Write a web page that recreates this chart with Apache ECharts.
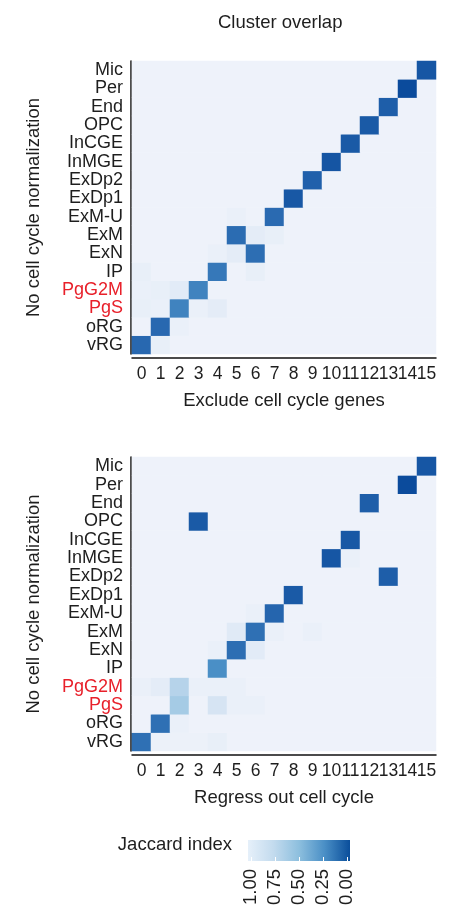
<!DOCTYPE html>
<html>
<head>
<meta charset="utf-8">
<script src="https://cdn.jsdelivr.net/npm/echarts@6/dist/echarts.min.js"></script>
<style>
  html, body { margin: 0; padding: 0; background: #fff; }
  #chart { width: 451px; height: 911px; }
</style>
</head>
<body>
<div id="chart"></div>
<script>
// clusters (columns) and cell types (rows, bottom to top)
var clusters = ['0','1','2','3','4','5','6','7','8','9','10','11','12','13','14','15'];
var cellTypes = ['vRG','oRG','PgS','PgG2M','IP','ExN','ExM','ExM-U','ExDp1','ExDp2','InMGE','InCGE','OPC','End','Per','Mic'];
var redTypes = ['PgG2M', 'PgS'];

// Jaccard overlap, one row per cell type, one value per cluster
var excludeGenes = [
  [0.80,0.03,0,0,0,0,0,0,0,0,0,0,0,0,0,0],
  [0,0.80,0.02,0,0,0,0,0,0,0,0,0,0,0,0,0],
  [0.03,0.02,0.66,0.02,0.05,0,0,0,0,0,0,0,0,0,0,0],
  [0.02,0.03,0.06,0.66,0,0,0,0,0,0,0,0,0,0,0,0],
  [0.03,0,0,0,0.72,0,0.03,0,0,0,0,0,0,0,0,0],
  [0,0,0,0,0.02,0.05,0.77,0,0,0,0,0,0,0,0,0],
  [0,0,0,0,0,0.78,0.05,0.03,0,0,0,0,0,0,0,0],
  [0,0,0,0,0,0.02,0,0.79,0,0,0,0,0,0,0,0],
  [0,0,0,0,0,0,0,0,0.90,0,0,0,0,0,0,0],
  [0,0,0,0,0,0,0,0,0,0.85,0,0,0,0,0,0],
  [0,0,0,0,0,0,0,0,0,0,0.92,0,0,0,0,0],
  [0,0,0,0,0,0,0,0,0,0,0,0.89,0,0,0,0],
  [0,0,0,0,0,0,0,0,0,0,0,0,0.89,0,0,0],
  [0,0,0,0,0,0,0,0,0,0,0,0,0,0.86,0,0],
  [0,0,0,0,0,0,0,0,0,0,0,0,0,0,0.98,0],
  [0,0,0,0,0,0,0,0,0,0,0,0,0,0,0,0.91]
];
var regressOut = [
  [0.76,0.01,0.01,0.01,0.03,0,0,0,0,0,0,0,0,0,0,0],
  [0,0.76,0.02,0,0,0,0,0,0,0,0,0,0,0,0,0],
  [0,0,0.32,0,0.12,0.02,0.02,0,0,0,0,0,0,0,0,0],
  [0.02,0.05,0.26,0.02,0.02,0.02,0,0,0,0,0,0,0,0,0,0],
  [0,0,0,0,0.60,0,0,0,0,0,0,0,0,0,0,0],
  [0,0,0,0,0.02,0.77,0.06,0,0,0,0,0,0,0,0,0],
  [0,0,0,0,0,0.07,0.76,0.02,0,0.02,0,0,0,0,0,0],
  [0,0,0,0,0,0,0.02,0.82,0,0,0,0,0,0,0,0],
  [0,0,0,0,0,0,0,0,0.89,0,0,0,0,0,0,0],
  [0,0,0,0,0,0,0,0,0,0,0,0,0,0.86,0,0],
  [0,0,0,0,0,0,0,0,0,0,0.91,0.02,0,0,0,0],
  [0,0,0,0,0,0,0,0,0,0,0,0.90,0,0,0,0],
  [0,0,0,0.89,0,0,0,0,0,0,0,0,0,0,0,0],
  [0,0,0,0,0,0,0,0,0,0,0,0,0.86,0,0,0],
  [0,0,0,0,0,0,0,0,0,0,0,0,0,0,0.98,0],
  [0,0,0,0,0,0,0,0,0,0,0,0,0,0,0,0.91]
];
// colour bar tick labels, read left to right
var legendTicks = [1.00, 0.75, 0.50, 0.25, 0.00];

var FONT = 'Liberation Sans, Arial, Helvetica, sans-serif';
var TXT = '#1e1e1e';
var blues = ['#eef2fa', '#c6dbef', '#8fc0de', '#4a8fc6', '#2868b0', '#08489a'];

function toCells(matrix) {
  var out = [];
  matrix.forEach(function (row, y) {
    row.forEach(function (v, x) { out.push([x, y, v]); });
  });
  return out;
}

function xAx(gridIndex, name) {
  return {
    type: 'category', gridIndex: gridIndex, data: clusters, offset: 4,
    name: name, nameLocation: 'middle', nameGap: 33,
    nameTextStyle: { fontFamily: FONT, fontSize: 18.5, color: TXT },
    axisLine: { lineStyle: { color: '#111', width: 1.5 } },
    axisTick: { alignWithLabel: true, length: 3, lineStyle: { color: '#555' } },
    axisLabel: { fontFamily: FONT, fontSize: 17.5, color: TXT, margin: 7, interval: 0 },
    splitLine: { show: false }
  };
}
function yAx(gridIndex) {
  return {
    type: 'category', gridIndex: gridIndex, data: cellTypes, offset: 1,
    name: 'No cell cycle normalization', nameLocation: 'middle', nameGap: 88,
    nameTextStyle: { fontFamily: FONT, fontSize: 18.5, color: TXT },
    axisLine: { lineStyle: { color: '#111', width: 1.5 } },
    axisTick: { alignWithLabel: true, length: 3, lineStyle: { color: '#555' } },
    axisLabel: {
      fontFamily: FONT, fontSize: 18, margin: 8, interval: 0,
      color: function (v) { return redTypes.indexOf(v) >= 0 ? '#e8202a' : TXT; }
    },
    splitLine: { show: false }
  };
}

var chart = echarts.init(document.getElementById('chart'));
chart.setOption({
  backgroundColor: '#fff',
  animation: false,
  title: {
    text: 'Cluster overlap', left: 213, top: 8,
    textStyle: { fontFamily: FONT, fontSize: 18.5, fontWeight: 'normal', color: TXT }
  },
  grid: [
    { left: 132, top: 61, width: 304, height: 293 },
    { left: 132, top: 457, width: 304, height: 294 },
    { left: 251, top: 840, width: 96, height: 21 }
  ],
  xAxis: [
    xAx(0, 'Exclude cell cycle genes'),
    xAx(1, 'Regress out cell cycle'),
    {
      type: 'value', gridIndex: 2, min: 0, max: 1, interval: 0.25, inverse: true,
      axisLine: { show: false },
      axisTick: { inside: true, length: 4, lineStyle: { color: '#fff', width: 1 } },
      axisLabel: {
        rotate: 90, fontFamily: FONT, fontSize: 18.5, color: TXT, margin: 8,
        formatter: function (v) { return v.toFixed(2); }
      },
      splitLine: { show: false }
    }
  ],
  yAxis: [
    yAx(0), yAx(1),
    { type: 'value', gridIndex: 2, show: false, min: 0, max: 1 }
  ],
  visualMap: {
    show: false, min: 0, max: 1, seriesIndex: [0, 1],
    inRange: { color: blues }
  },
  graphic: [
    {
      type: 'rect', left: 248, top: 840, z: -1,
      shape: { width: 102, height: 21 },
      style: {
        fill: new echarts.graphic.LinearGradient(0, 0, 1, 0, [
          { offset: 0, color: '#e6f0fa' },
          { offset: 0.25, color: '#c3dbee' },
          { offset: 0.5, color: '#8dbfde' },
          { offset: 0.75, color: '#4a8fc6' },
          { offset: 1, color: '#0a4e9b' }
        ])
      }
    },
    {
      type: 'text', right: 451 - 232, top: 835,
      style: { text: 'Jaccard index', font: '18.5px ' + FONT, fill: TXT }
    }
  ],
  series: [
    { type: 'heatmap', xAxisIndex: 0, yAxisIndex: 0, data: toCells(excludeGenes) },
    { type: 'heatmap', xAxisIndex: 1, yAxisIndex: 1, data: toCells(regressOut) },
    { type: 'line', xAxisIndex: 2, yAxisIndex: 2, data: [], legendTicks: legendTicks }
  ]
});
</script>
</body>
</html>
